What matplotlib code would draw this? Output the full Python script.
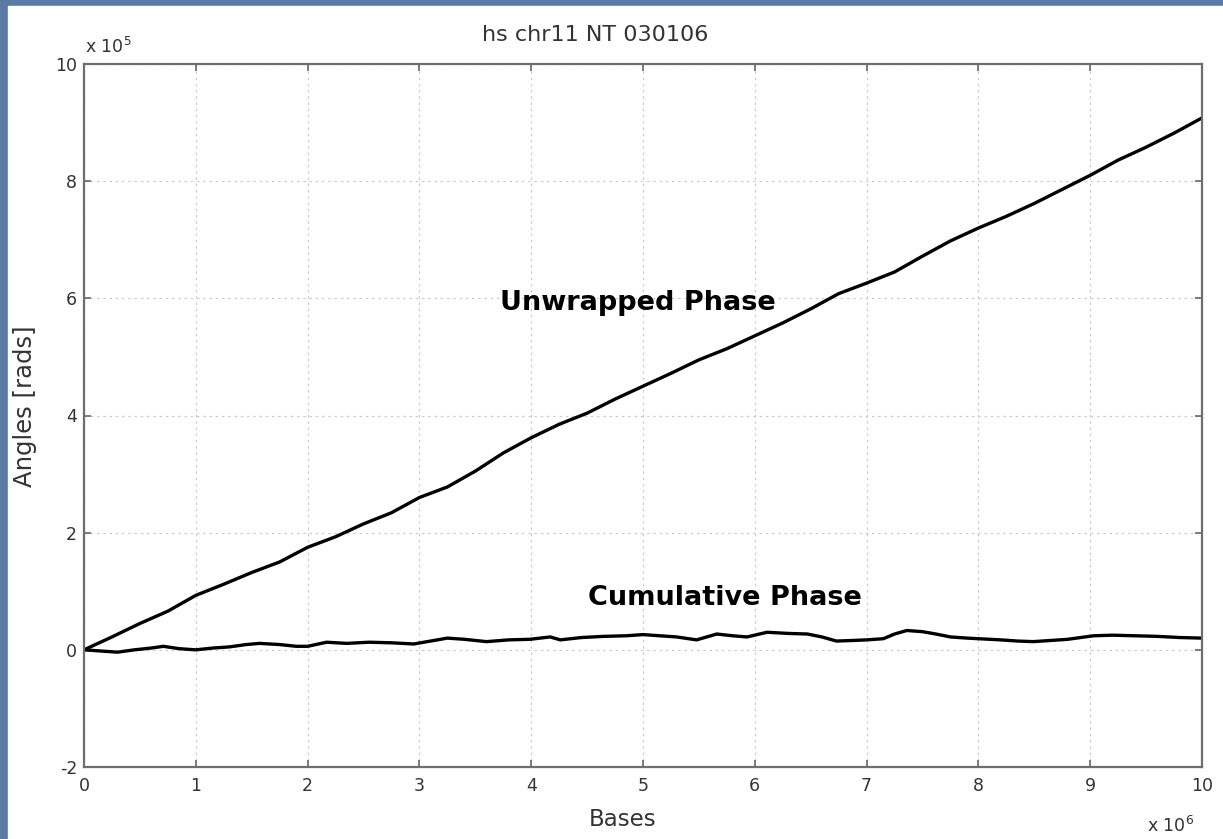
import matplotlib.pyplot as plt
from matplotlib.patches import Rectangle

# bases in units of 1e6, angles in units of 1e5 rads
unwrapped_x = [0.00, 0.25, 0.50, 0.75, 1.00, 1.25, 1.50, 1.75, 2.00, 2.25,
               2.50, 2.75, 3.00, 3.25, 3.50, 3.75, 4.00, 4.25, 4.50, 4.75,
               5.00, 5.25, 5.50, 5.75, 6.00, 6.25, 6.50, 6.75, 7.00, 7.25,
               7.50, 7.75, 8.00, 8.25, 8.50, 8.75, 9.00, 9.25, 9.50, 9.75, 10.00]
unwrapped_y = [0.00, 0.22, 0.45, 0.66, 0.93, 1.12, 1.32, 1.50, 1.75, 1.93,
               2.15, 2.34, 2.60, 2.78, 3.05, 3.36, 3.62, 3.85, 4.04, 4.28,
               4.50, 4.72, 4.95, 5.14, 5.36, 5.58, 5.82, 6.08, 6.26, 6.45,
               6.72, 6.98, 7.20, 7.40, 7.62, 7.86, 8.10, 8.36, 8.58, 8.82, 9.08]

cumulative_x = [0.00, 0.15, 0.30, 0.45, 0.60, 0.71, 0.85, 1.00, 1.15, 1.30,
                1.45, 1.57, 1.75, 1.90, 2.00, 2.17, 2.35, 2.55, 2.75, 2.95,
                3.10, 3.25, 3.40, 3.60, 3.80, 3.99, 4.17, 4.26, 4.45, 4.65,
                4.85, 5.00, 5.15, 5.30, 5.48, 5.66, 5.80, 5.93, 6.11, 6.30,
                6.47, 6.60, 6.73, 6.88, 7.00, 7.15, 7.25, 7.36, 7.50, 7.62,
                7.75, 7.90, 8.00, 8.20, 8.35, 8.49, 8.65, 8.80, 9.03, 9.20,
                9.40, 9.60, 9.80, 10.00]
cumulative_y = [0.00, -0.02, -0.04, 0.00, 0.03, 0.06, 0.02, 0.00, 0.03, 0.05,
                0.09, 0.11, 0.09, 0.06, 0.06, 0.13, 0.11, 0.13, 0.12, 0.10,
                0.15, 0.20, 0.18, 0.14, 0.17, 0.18, 0.22, 0.17, 0.21, 0.23,
                0.24, 0.26, 0.24, 0.22, 0.17, 0.27, 0.24, 0.22, 0.30, 0.28,
                0.27, 0.22, 0.15, 0.16, 0.17, 0.19, 0.27, 0.33, 0.31, 0.27,
                0.22, 0.20, 0.19, 0.17, 0.15, 0.14, 0.16, 0.18, 0.24, 0.25,
                0.24, 0.23, 0.21, 0.20]

x_ticks = list(range(0, 11))
y_ticks = [-2, 0, 2, 4, 6, 8, 10]

W, H = 1223, 839
plt.rcParams['font.family'] = 'DejaVu Sans'
plt.rcParams['axes.unicode_minus'] = False

fig = plt.figure(figsize=(W / 100, H / 100), dpi=100, facecolor='#5b7aa3')
fig.patches.append(Rectangle((8 / W, 0), 1 - 8 / W, 1 - 6 / H,
                             transform=fig.transFigure, color='white', zorder=-10))

ax = fig.add_axes([84 / W, (H - 767) / H, (1202 - 84) / W, (767 - 64) / H])
ax.plot(unwrapped_x, unwrapped_y, color='black', lw=2.4)
ax.plot(cumulative_x, cumulative_y, color='black', lw=2.4)

ax.set_xlim(0, 10)
ax.set_ylim(-2, 10)
ax.set_xticks(x_ticks)
ax.set_yticks(y_ticks)
ax.grid(True, linestyle=(0, (2, 3)), color='#cccccc', linewidth=0.9)
ax.tick_params(direction='in', top=True, right=True, length=5, width=1.2,
               color='#666666', labelcolor='#333333', labelsize=12.5)
ax.tick_params(axis='x', pad=7)
ax.tick_params(axis='y', pad=5)
for sp in ax.spines.values():
    sp.set_color('#6e6e6e')
    sp.set_linewidth(1.6)

ax.text(3.72, 5.92, 'Unwrapped Phase', fontsize=19.5, fontweight='bold',
        ha='left', va='center')
ax.text(4.51, 0.89, 'Cumulative Phase', fontsize=19.5, fontweight='bold',
        ha='left', va='center')

fig.text(595 / W, 1 - 35 / H, 'hs chr11 NT 030106', fontsize=16,
         color='#333333', ha='center', va='center')
fig.text(623 / W, 1 - 820 / H, 'Bases', fontsize=16.5, color='#333333',
         ha='center', va='center')
fig.text(25 / W, 1 - 406 / H, 'Angles [rads]', fontsize=17.5, color='#333333',
         rotation=90, ha='center', va='center')
fig.text(85 / W, 1 - 47 / H, r'x 10$^5$', fontsize=12.5, color='#333333',
         ha='left', va='center')
fig.text(1147 / W, 1 - 826 / H, r'x 10$^6$', fontsize=12.5, color='#333333',
         ha='left', va='center')

fig.savefig('out.png', dpi=100, facecolor=fig.get_facecolor())
